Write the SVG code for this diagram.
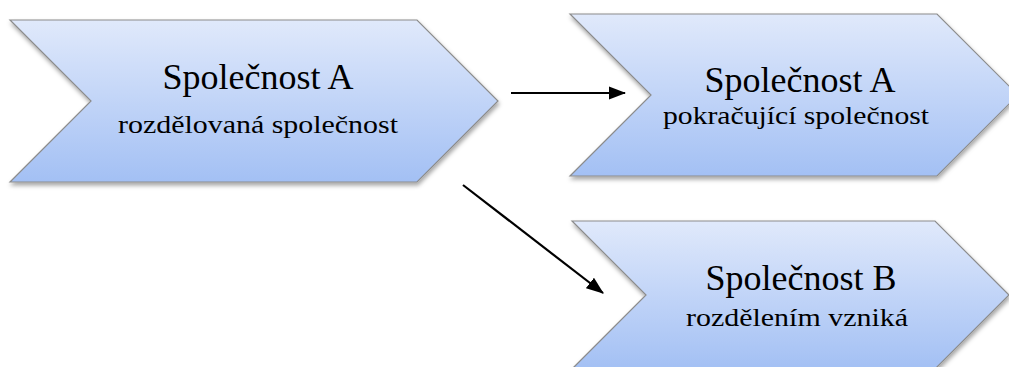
<svg xmlns="http://www.w3.org/2000/svg" width="1009" height="367" viewBox="0 0 1009 367">
<style>
.shape{fill:url(#g);stroke:#8c8c8c;stroke-width:1.2;filter:url(#sh)}
.t1{font-family:"Liberation Serif","Times New Roman",serif;font-size:36px;fill:#000;text-anchor:middle}
.t2{font-family:"Liberation Serif","Times New Roman",serif;font-size:25px;fill:#000;text-anchor:middle}
.con{stroke:#000;stroke-width:2.2;fill:none;marker-end:url(#ah)}
</style>
<defs>
<linearGradient id="g" x1="0" y1="0" x2="0" y2="1">
<stop offset="0" stop-color="#e0e9fb"/>
<stop offset="1" stop-color="#a3c0f4"/>
</linearGradient>
<filter id="sh" x="-5%" y="-10%" width="115%" height="130%">
<feDropShadow dx="1" dy="3" stdDeviation="2" flood-color="#000" flood-opacity="0.35"/>
</filter>
<marker id="ah" markerWidth="8" markerHeight="6" refX="7.5" refY="3" orient="auto" markerUnits="strokeWidth">
<path d="M0,0 L8,3 L0,6 Z" fill="#000"/>
</marker>
</defs>
<g id="node-a">
<path class="shape" d="M10,20 L417,20 L498,101 L417,182 L10,182 L91,101 Z"/>
<text class="t1" x="258" y="89">Společnost A</text>
<text class="t2" x="258" y="133" textLength="280" lengthAdjust="spacingAndGlyphs">rozdělovaná společnost</text>
</g>
<g id="node-a2">
<path class="shape" d="M570,14 L937,14 L1018,95 L937,176 L570,176 L651,95 Z"/>
<text class="t1" x="800" y="92">Společnost A</text>
<text class="t2" x="796" y="124" textLength="266" lengthAdjust="spacingAndGlyphs">pokračující společnost</text>
</g>
<g id="node-b">
<path class="shape" d="M572,221 L935,221 L1009,295 L935,369 L572,369 L646,295 Z"/>
<text class="t1" x="801" y="290">Společnost B</text>
<text class="t2" x="797" y="326" textLength="222" lengthAdjust="spacingAndGlyphs">rozdělením vzniká</text>
</g>
<g id="connectors">
<line class="con" x1="511" y1="93" x2="625" y2="93"/>
<line class="con" x1="463" y1="185" x2="603" y2="293"/>
</g>
</svg>
